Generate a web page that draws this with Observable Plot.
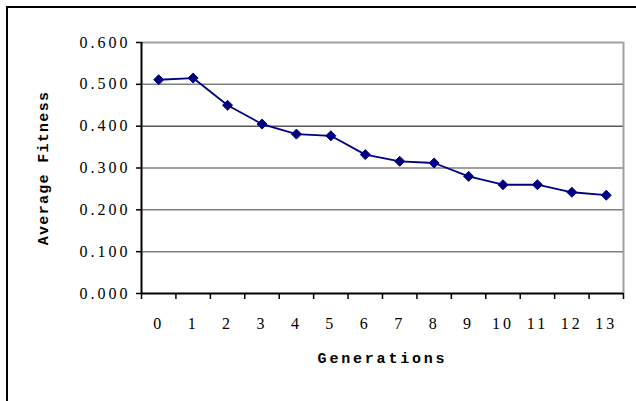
<!DOCTYPE html>
<html>
<head>
<meta charset="utf-8">
<script src="https://cdn.jsdelivr.net/npm/d3@7"></script>
<script src="https://cdn.jsdelivr.net/npm/@observablehq/plot@0.6"></script>
<style>
  html, body { margin: 0; padding: 0; background: #fff; }
  #wrap { position: relative; width: 636px; height: 401px; overflow: hidden; }
  #frame { position: absolute; left: 6px; top: 6px; width: 640px; height: 410px;
           border-left: 2px solid #000; border-top: 2px solid #000; box-sizing: border-box; }
  #chart { position: absolute; left: 0; top: 0; }
  .ticklab text { letter-spacing: 3px; }
</style>
</head>
<body>
<div id="wrap"><div id="frame"></div><div id="chart"></div></div>
<script>
const generations = [0, 1, 2, 3, 4, 5, 6, 7, 8, 9, 10, 11, 12, 13];
const fitness = [0.511, 0.515, 0.450, 0.405, 0.381, 0.377, 0.332, 0.316, 0.312, 0.280, 0.260, 0.260, 0.242, 0.235];
const yTicks = [0, 0.1, 0.2, 0.3, 0.4, 0.5, 0.6];
const gridLines = [0.1, 0.2, 0.3, 0.5];
const xTitle = "Generations";
const yTitle = "Average Fitness";

const data = generations.map((g, i) => ({g, v: fitness[i]}));
const bounds = generations.map(g => g - 0.5).concat([generations[generations.length - 1] + 0.5]);

const navy = "#000080";
const plot = Plot.plot({
  width: 636,
  height: 401,
  marginLeft: 141,
  marginRight: 13,
  marginTop: 42,
  marginBottom: 108,
  style: {fontFamily: "Liberation Serif", fontSize: "16px", color: "#000", background: "transparent"},
  x: {domain: [-0.5, 13.5]},
  y: {domain: [0, 0.6]},
  marks: [
    Plot.ruleY(gridLines, {stroke: "#808080", strokeWidth: 1.5}),
    Plot.ruleY([0.4], {stroke: "#000", strokeWidth: 1}),
    Plot.ruleY([0.6], {stroke: "#a0a0a0", strokeWidth: 2}),
    Plot.ruleX([13.5], {stroke: "#a0a0a0", strokeWidth: 2}),
    Plot.axisY({ticks: yTicks, tickFormat: d3.format(".3f"), tickSize: 5, tickPadding: 6, stroke: "#000", strokeWidth: 1.5, label: null, className: "ticklab"}),
    Plot.axisX({ticks: generations, tickSize: 0, tickPadding: 24, tickFormat: d => String(d), label: null, className: "ticklab"}),
    Plot.axisX({ticks: bounds, tickSize: 6, tickFormat: () => "", stroke: "#000", strokeWidth: 1.5, label: null}),
    Plot.ruleX([-0.5], {stroke: "#000", strokeWidth: 2}),
    Plot.ruleY([0], {stroke: "#000", strokeWidth: 2}),
    Plot.line(data, {x: "g", y: "v", stroke: navy, strokeWidth: 1.8}),
    Plot.dot(data, {x: "g", y: "v", symbol: "diamond2", r: 4.5, fill: navy, stroke: navy, strokeWidth: 1}),
    Plot.text([xTitle], {frameAnchor: "bottom", dy: 69, textAnchor: "middle", fontFamily: "Liberation Mono", fontWeight: "bold", fontSize: 15, className: "xtitle"}),
    Plot.text([yTitle], {frameAnchor: "left", dx: -98, rotate: -90, textAnchor: "middle", fontFamily: "Liberation Mono", fontWeight: "bold", fontSize: 15, className: "ytitle"})
  ]
});
document.getElementById("chart").appendChild(plot);
d3.select(plot).selectAll(".xtitle text").attr("letter-spacing", "2.8px");
d3.select(plot).selectAll(".ytitle text").attr("letter-spacing", "1.3px");
</script>
</body>
</html>
